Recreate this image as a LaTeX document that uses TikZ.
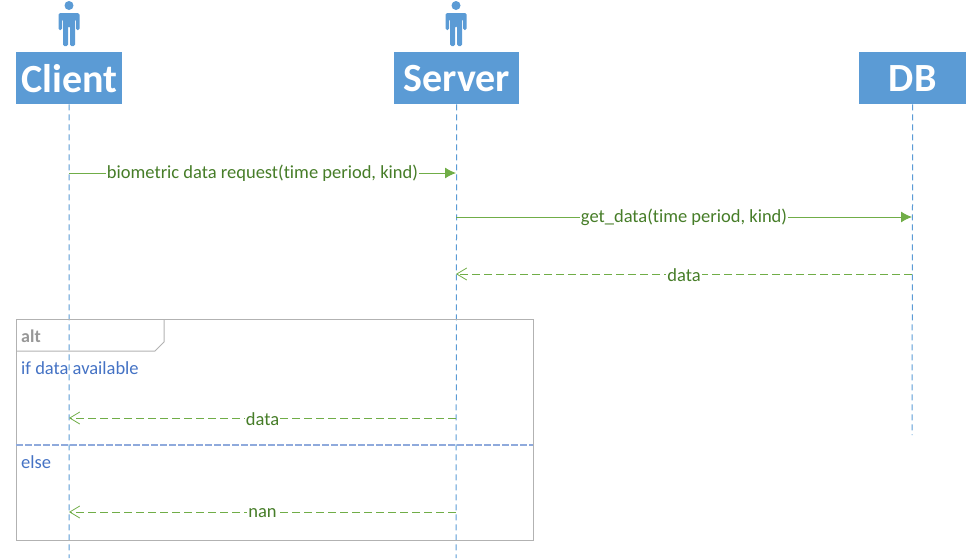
\documentclass[tikz,border=0pt]{standalone}
\usepackage{fontspec}
\usepackage{xcolor}
\usepackage{tikz}
\usetikzlibrary{arrows.meta}
\setmainfont[Ligatures=NoCommon]{Carlito}
\definecolor{lifecol}{RGB}{91,155,213}
\definecolor{msgcol}{RGB}{112,173,71}
\definecolor{msgtxt}{RGB}{70,125,40}
\definecolor{altcol}{RGB}{68,114,196}
\definecolor{framecol}{RGB}{178,178,178}
\tikzset{
  headbox/.style={fill=lifecol,text=white,font=\fontsize{40}{40}\selectfont\bfseries,anchor=north west,inner sep=0pt,align=center},
  lifeline/.style={lifecol,dash pattern=on 6pt off 4pt,line width=1pt},
  callmsg/.style={msgcol,line width=1pt,-{Latex[length=11pt,width=11pt]}},
  replymsg/.style={msgcol,line width=1pt,dash pattern=on 8pt off 4pt,-{Straight Barb[length=10pt,width=12pt,line width=0.8pt]}},
  msglabel/.style={fill=white,text=msgtxt,font=\fontsize{18.5}{18.5}\selectfont,inner xsep=1pt,inner ysep=0.5pt,yshift=-0.7pt},
  alttxt/.style={text=altcol,font=\fontsize{18.5}{18.5}\selectfont,anchor=west,inner sep=0pt},
  person/.pic={
    \fill[lifecol] (0,-24.5) circle (4.5);
    \fill[lifecol,rounded corners=1.5pt] (-10.5,-17) -- (10.5,-17) -- (10.5,0) -- (7,0) -- (7,-11) -- (6,-11) -- (6,16) -- (1,16) -- (1,-4) -- (-1,-4) -- (-1,16) -- (-6,16) -- (-6,-11) -- (-7,-11) -- (-7,0) -- (-10.5,0) -- cycle;
  }
}
\begin{document}
\begin{tikzpicture}[x=1pt,y=-1pt]
\useasboundingbox (0,0) rectangle (968,558);
% heads
\node[headbox,minimum width=106pt,minimum height=52pt] (client) at (16,52) {Client};
\node[headbox,minimum width=125pt,minimum height=52pt] (server) at (394,52) {Server};
\node[headbox,minimum width=107pt,minimum height=52pt] (db) at (859,52) {DB};
\pic at (69,30) {person};
\pic at (456,30) {person};
% lifelines
\coordinate (clientend) at (69,558);
\coordinate (serverend) at (456,558);
\coordinate (dbend) at (912,435);
\draw[lifeline] (client.south) -- (clientend);
\draw[lifeline] (server.south) -- (serverend);
\draw[lifeline] (db.south) -- (dbend);
% alt frame
\draw[framecol,line width=1pt] (16,319) rectangle (533,540);
\draw[framecol,line width=1pt] (16,351) -- (155,351) -- (164,342) -- (164,319);
\node[text=framecol!85!black,font=\fontsize{18}{18}\selectfont\bfseries,anchor=west,inner sep=0pt] (alt) at (21,336) {alt};
\node[alttxt] (ifdata) at (21,368) {if data available};
\node[alttxt] (else) at (21,462) {else};
\coordinate (divl) at (16,445);
\coordinate (divr) at (533,445);
\draw[altcol!60,line width=1.1pt,dash pattern=on 7pt off 2pt] (divl) -- (divr);
% messages
\coordinate (c1) at (69,173);
\coordinate (s1) at (456,173);
\coordinate (s2) at (456,217);
\coordinate (d2) at (912,217);
\coordinate (d3) at (912,274);
\coordinate (s3) at (456,274);
\coordinate (s4) at (456,418);
\coordinate (c4) at (69,418);
\coordinate (s5) at (456,512);
\coordinate (c5) at (69,512);
\draw[callmsg] (c1) -- (s1) node[msglabel,midway] (m1) {biometric data request(time period, kind)};
\draw[callmsg] (s2) -- (d2) node[msglabel,midway] (m2) {get\_data(time period, kind)};
\draw[replymsg] (d3) -- (s3) node[msglabel,midway] (m3) {data};
\draw[replymsg] (s4) -- (c4) node[msglabel,midway] (m4) {data};
\draw[replymsg] (s5) -- (c5) node[msglabel,midway] (m5) {nan};
\end{tikzpicture}
\end{document}
